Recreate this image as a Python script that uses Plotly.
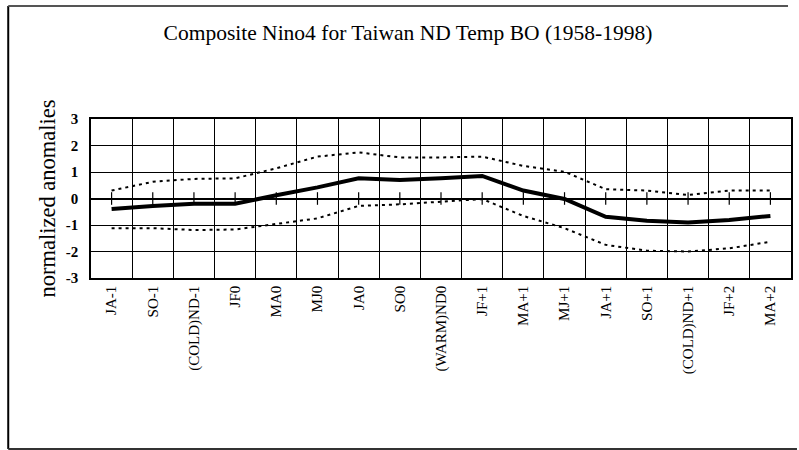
import plotly.graph_objects as go

categories = ["JA-1", "SO-1", "(COLD)ND-1", "JF0", "MA0", "MJ0", "JA0", "SO0",
              "(WARM)ND0", "JF+1", "MA+1", "MJ+1", "JA+1", "SO+1", "(COLD)ND+1",
              "JF+2", "MA+2"]
mean_vals = [-0.40, -0.28, -0.20, -0.20, 0.12, 0.42, 0.76, 0.70, 0.76, 0.85,
             0.30, -0.02, -0.69, -0.84, -0.91, -0.81, -0.66]
upper_vals = [0.30, 0.63, 0.74, 0.76, 1.14, 1.58, 1.74, 1.55, 1.55, 1.58,
              1.23, 1.01, 0.35, 0.30, 0.13, 0.30, 0.30]
lower_vals = [-1.12, -1.12, -1.19, -1.17, -0.96, -0.75, -0.28, -0.22, -0.12, -0.02,
              -0.66, -1.12, -1.75, -1.97, -2.00, -1.88, -1.63]
zero_ticks = [0] * len(categories)
y_ticks = [3, 2, 1, 0, -1, -2, -3]

serif = "Liberation Serif"

fig = go.Figure()
fig.add_trace(go.Scatter(x=categories, y=zero_ticks, mode="markers",
                         marker=dict(symbol="line-ns-open", size=9, color="black",
                                     line=dict(color="black", width=1.2)),
                         hoverinfo="skip"))
fig.add_trace(go.Scatter(x=categories, y=upper_vals, mode="lines",
                         line=dict(color="black", width=2, dash="3px,4px")))
fig.add_trace(go.Scatter(x=categories, y=lower_vals, mode="lines",
                         line=dict(color="black", width=2, dash="3px,4px")))
fig.add_trace(go.Scatter(x=categories, y=mean_vals, mode="lines",
                         line=dict(color="black", width=4)))

pw, ph = 702.0, 159.0
def px(x):
    return (x - 91) / pw
def py(y):
    return (278 - y) / ph

shapes = [
    dict(type="line", xref="paper", yref="paper", x0=px(8), x1=px(8), y0=py(6), y1=py(449),
         line=dict(color="black", width=2)),
    dict(type="line", xref="paper", yref="paper", x0=px(8), x1=px(790), y0=py(6), y1=py(6),
         line=dict(color="#555555", width=2)),
    dict(type="line", xref="paper", yref="paper", x0=px(8), x1=px(799), y0=py(449), y1=py(449),
         line=dict(color="#333333", width=2)),
]

fig.update_layout(
    width=799, height=450,
    margin=dict(l=91, r=6, t=119, b=172),
    paper_bgcolor="white", plot_bgcolor="white",
    showlegend=False,
    font=dict(family=serif, color="black"),
    shapes=shapes,
    title=dict(text="Composite Nino4 for Taiwan ND Temp BO (1958-1998)",
               x=(408) / 799, xanchor="center", y=1 - 32 / 450, yanchor="middle",
               font=dict(family=serif, size=21.5, color="black")),
    xaxis=dict(type="category", range=[-0.5, 16.5], tickson="boundaries",
               showgrid=True, gridcolor="black", gridwidth=1,
               showline=True, linecolor="black", linewidth=1.5, mirror=True,
               ticks="", tickangle=-90,
               tickfont=dict(family=serif, size=15, color="black")),
    yaxis=dict(range=[-3, 3], tickvals=y_ticks, ticktext=[str(v) for v in y_ticks],
               showgrid=True, gridcolor="black", gridwidth=1,
               zeroline=True, zerolinecolor="black", zerolinewidth=1.5,
               showline=True, linecolor="black", linewidth=1.5, mirror=True,
               ticks="", ticklabelstandoff=8,
               tickfont=dict(family=serif, size=15, color="black", weight="bold"),
               title=dict(text="normalized anomalies", standoff=4,
                          font=dict(family=serif, size=22.5, color="black"))),
)

fig.write_html("out.html")
